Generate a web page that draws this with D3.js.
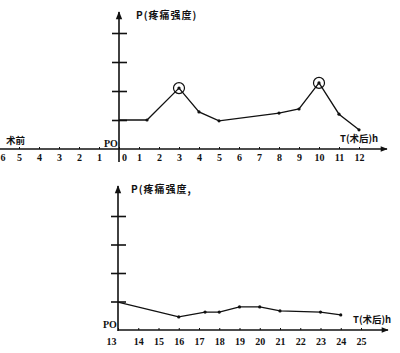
<!DOCTYPE html>
<html>
<head>
<meta charset="utf-8">
<script src="https://cdn.jsdelivr.net/npm/d3@7"></script>
<style>
  body { margin: 0; background: #fff; }
  svg { display: block; }
  text { font-family: "Liberation Serif", serif; font-weight: bold; fill: #111; }
  .cjk { font-family: "Noto Sans CJK SC", sans-serif; font-weight: bold; }
</style>
</head>
<body>
<svg id="chart" width="400" height="353"></svg>
<script>
  'use strict';

  // hours, negative = before surgery (术前)
  var topTicks = [-6, -5, -4, -3, -2, -1, 0, 1, 2, 3, 4, 5, 6, 7, 8, 9, 10, 11, 12];
  var topHours = [0, 1.4, 3, 4, 5, 8, 9, 10, 11, 12];
  var topPain  = [1, 1, 2.1, 1.28, 0.97, 1.24, 1.38, 2.28, 1.2, 0.66];
  var topPeaks = [3, 10];

  var botTicks = [13, 14, 15, 16, 17, 18, 19, 20, 21, 22, 23, 24, 25];
  var botHours = [13, 16, 17.3, 18, 19, 20, 21, 23, 24];
  var botPain  = [0.98, 0.46, 0.63, 0.63, 0.81, 0.81, 0.67, 0.63, 0.53];

  var painTicks = [1, 2, 3, 4];

  var svg = d3.select('#chart');

  svg.append('defs').append('marker')
    .attr('id', 'arrow')
    .attr('viewBox', '0 0 10 10')
    .attr('refX', 9).attr('refY', 5)
    .attr('markerWidth', 7).attr('markerHeight', 5)
    .attr('orient', 'auto')
    .append('path')
      .attr('d', 'M0,1 L10,5 L0,9 Z')
      .attr('fill', '#111');

  /**
   * One pain/time panel.
   */
  function drawPanel(o) {
    var g = svg.append('g');
    var x = d3.scaleLinear().domain(o.xDomain).range(o.xRange);
    var y = d3.scaleLinear().domain([0, 4]).range([o.base, o.base - 4 * o.unit]);
    var x0 = x(o.xDomain[0]);

    // x axis line with arrow
    g.append('line')
      .attr('x1', o.axisStart).attr('x2', o.axisEnd)
      .attr('y1', o.base).attr('y2', o.base)
      .attr('stroke', '#111').attr('stroke-width', 1.4)
      .attr('marker-end', 'url(#arrow)');

    // y axis line with arrow
    g.append('line')
      .attr('x1', x0).attr('x2', x0)
      .attr('y1', o.yBottom).attr('y2', o.yTop)
      .attr('stroke', '#111').attr('stroke-width', 1.6)
      .attr('marker-end', 'url(#arrow)');

    // x ticks and labels
    var xa = g.append('g')
      .attr('transform', 'translate(0,' + o.base + ')')
      .call(d3.axisBottom(x)
        .tickValues(o.ticks)
        .tickSize(-2)
        .tickPadding(o.pad)
        .tickFormat(function (d) { return Math.abs(d); }));
    xa.select('.domain').remove();
    xa.selectAll('.tick line').attr('stroke', '#111');
    xa.selectAll('.tick text')
      .attr('font-size', 10)
      .attr('font-family', null)
      .attr('fill', '#111');
    if (o.fixLabels) o.fixLabels(xa, x);

    // y cross ticks
    var ya = g.append('g')
      .attr('transform', 'translate(' + (x0 + 8) + ',0)')
      .call(d3.axisLeft(y).tickValues(painTicks).tickSize(15).tickFormat(''));
    ya.select('.domain').remove();
    ya.selectAll('.tick line').attr('stroke', '#111').attr('stroke-width', 1.6);

    // series
    var pts = o.hours.map(function (h, i) { return [h, o.pain[i]]; });
    g.append('path')
      .datum(pts)
      .attr('fill', 'none')
      .attr('stroke', '#111')
      .attr('stroke-width', 1.3)
      .attr('d', d3.line()
        .x(function (d) { return x(d[0]); })
        .y(function (d) { return y(d[1]); }));

    g.selectAll('circle.dot')
      .data(pts.slice(1))
      .enter().append('circle')
        .attr('class', 'dot')
        .attr('cx', function (d) { return x(d[0]); })
        .attr('cy', function (d) { return y(d[1]); })
        .attr('r', 1.6)
        .attr('fill', '#111');

    g.selectAll('circle.peak')
      .data(pts.filter(function (d) { return o.peaks.indexOf(d[0]) >= 0; }))
      .enter().append('circle')
        .attr('class', 'peak')
        .attr('cx', function (d) { return x(d[0]); })
        .attr('cy', function (d) { return y(d[1]); })
        .attr('r', 5.5)
        .attr('fill', 'none')
        .attr('stroke', '#111')
        .attr('stroke-width', 1.2);

    // labels
    g.append('text')
      .attr('class', 'cjk')
      .attr('x', x0 + o.pLabelDx).attr('y', o.yTop + 7)
      .attr('font-size', 10)
      .attr('letter-spacing', 1)
      .text(o.pLabel);

    g.append('text')
      .attr('x', x0 - 15).attr('y', o.base - 2)
      .attr('font-size', 10)
      .text('PO');

    g.append('text')
      .attr('class', 'cjk')
      .attr('x', o.tLabelX).attr('y', o.base - 7)
      .attr('font-size', 9.5)
      .text('T(术后)h');

    return g;
  }

  var topPanel = drawPanel({
    xDomain: [0, 12], xRange: [119, 359],
    base: 149, unit: 29,
    axisStart: 0, axisEnd: 387,
    yTop: 12, yBottom: 162,
    ticks: topTicks, pad: 5,
    hours: topHours, pain: topPain, peaks: topPeaks,
    pLabel: 'P(疼痛强度)', pLabelDx: 17,
    tLabelX: 340,
    fixLabels: function (xa, x) {
      xa.selectAll('.tick text')
        .filter(function (d) { return d === -6; })
        .attr('text-anchor', 'start')
        .attr('x', -x(-6));
      xa.selectAll('.tick text')
        .filter(function (d) { return d === 0; })
        .attr('x', 5);
    }
  });

  topPanel.append('text')
    .attr('class', 'cjk')
    .attr('x', 6).attr('y', 144)
    .attr('font-size', 9.5)
    .text('术前');

  drawPanel({
    xDomain: [13, 25], xRange: [118, 361],
    base: 330, unit: 28.5,
    axisStart: 118, axisEnd: 388,
    yTop: 186, yBottom: 331,
    ticks: botTicks, pad: 8,
    hours: botHours, pain: botPain, peaks: [],
    pLabel: 'P(疼痛强度,', pLabelDx: 13,
    tLabelX: 353,
    fixLabels: function (xa) {
      xa.selectAll('.tick text')
        .filter(function (d) { return d === 13; })
        .attr('x', -7);
    }
  });
</script>
</body>
</html>
